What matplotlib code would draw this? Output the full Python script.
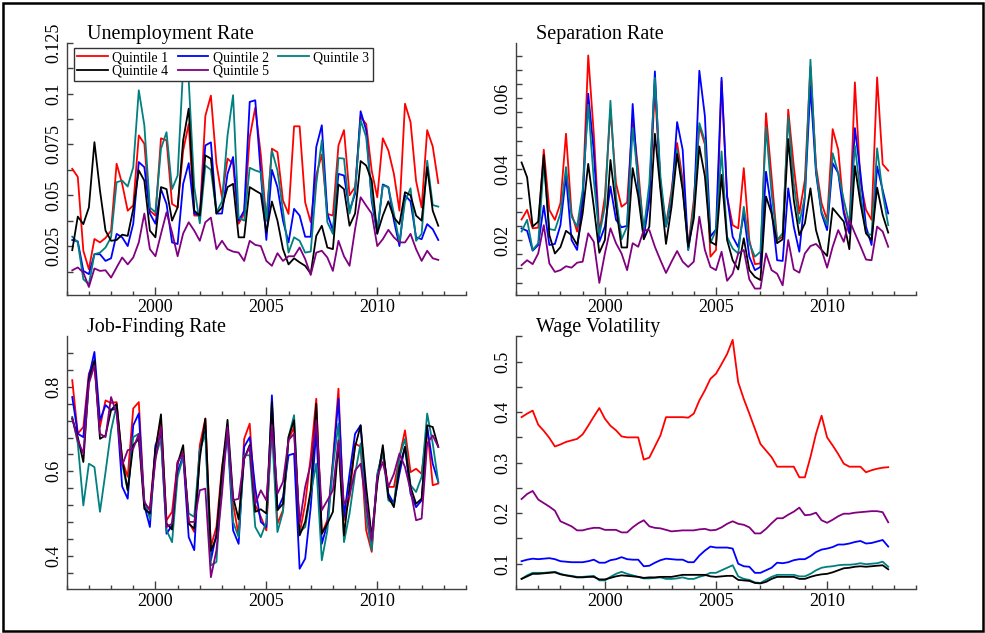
import numpy as np
import matplotlib
matplotlib.use("Agg")
import matplotlib.pyplot as plt
from matplotlib.patches import Rectangle
from matplotlib.ticker import FixedLocator, MultipleLocator, FuncFormatter

plt.rcParams['font.family'] = ['Liberation Serif', 'DejaVu Serif']

# quarterly observations, 1996Q2 .. 2012Q4
quarters = np.arange(1996.25, 2012.76, 0.25)

labels = ['Quintile 1', 'Quintile 2', 'Quintile 3', 'Quintile 4', 'Quintile 5']
colors = ['#ff0000', '#0000ff', '#008080', '#000000', '#800080']

# Unemployment rate
unemp_q1 = [0.063, 0.059, 0.0227, 0.0136, 0.0285, 0.0268, 0.029, 0.0326, 0.0655, 0.0556, 0.0424, 0.045,
            0.0794, 0.0753, 0.0424, 0.040, 0.078, 0.077, 0.0457, 0.044, 0.072, 0.085, 0.040, 0.040,
            0.089, 0.099, 0.0655, 0.049, 0.068, 0.0655, 0.036, 0.041, 0.0786, 0.093,
            0.070, 0.0375, 0.0729, 0.0712, 0.0474, 0.0408, 0.0839, 0.0839, 0.0465, 0.0367, 0.060, 0.070,
            0.0408, 0.040, 0.0745, 0.082, 0.050, 0.054, 0.0885, 0.085, 0.062, 0.049, 0.078, 0.072,
            0.0605, 0.0424, 0.095, 0.086, 0.057, 0.044, 0.082, 0.074, 0.056]
unemp_q2 = [0.028, 0.0273, 0.0128, 0.0112, 0.021, 0.021, 0.0177, 0.019, 0.031, 0.0293, 0.025, 0.036,
            0.0663, 0.0638, 0.041, 0.036, 0.053, 0.0457, 0.0268, 0.026, 0.0556, 0.0658, 0.041, 0.040,
            0.0745, 0.076, 0.041, 0.041, 0.0605, 0.0688, 0.0375, 0.0424, 0.0959, 0.0967,
            0.0605, 0.028, 0.0625, 0.054, 0.0375, 0.0268, 0.0433, 0.040, 0.0296, 0.0296, 0.0737, 0.0844,
            0.041, 0.0326, 0.0605, 0.0597, 0.0424, 0.0507, 0.0913, 0.082, 0.047, 0.031, 0.0553, 0.054,
            0.0375, 0.025, 0.050, 0.047, 0.0293, 0.0284, 0.0358, 0.0333, 0.028]
unemp_q3 = [0.0296, 0.0268, 0.0087, 0.0062, 0.021, 0.0218, 0.0243, 0.0293, 0.0564, 0.0572, 0.0543, 0.0638,
            0.1016, 0.0844, 0.044, 0.0416, 0.0729, 0.081, 0.053, 0.0597, 0.113, 0.1066, 0.054, 0.0362,
            0.0646, 0.0625, 0.0416, 0.047, 0.0794, 0.0992, 0.039, 0.0375, 0.0635, 0.0622,
            0.0613, 0.0375, 0.072, 0.0622, 0.0424, 0.0218, 0.0293, 0.0276, 0.0218, 0.0223, 0.0556, 0.077,
            0.0367, 0.031, 0.0683, 0.068, 0.041, 0.0523, 0.0868, 0.0786, 0.049, 0.0326, 0.0548, 0.054,
            0.041, 0.0268, 0.047, 0.0534, 0.0276, 0.031, 0.067, 0.0452, 0.0444]
unemp_q4 = [0.023, 0.0395, 0.0358, 0.044, 0.0761, 0.0523, 0.0326, 0.0276, 0.028, 0.0306, 0.030, 0.0432,
            0.0622, 0.0572, 0.0326, 0.0293, 0.054, 0.053, 0.0375, 0.044, 0.077, 0.0926, 0.0424, 0.040,
            0.0696, 0.068, 0.041, 0.044, 0.054, 0.0556, 0.0293, 0.0293, 0.054, 0.0523,
            0.0507, 0.0317, 0.0469, 0.0375, 0.0235, 0.016, 0.019, 0.017, 0.0153, 0.0115, 0.030, 0.035,
            0.0243, 0.0235, 0.0553, 0.053, 0.035, 0.041, 0.0668, 0.0646, 0.0572, 0.0312, 0.040, 0.047,
            0.039, 0.0358, 0.0515, 0.050, 0.040, 0.0375, 0.0638, 0.0424, 0.035]
unemp_q5 = [0.0131, 0.0145, 0.012, 0.0049, 0.014, 0.0128, 0.0131, 0.0095, 0.0145, 0.0194, 0.016, 0.0194,
            0.0268, 0.041, 0.0235, 0.020, 0.031, 0.0416, 0.0317, 0.020, 0.0312, 0.0367, 0.0326, 0.0276,
            0.0367, 0.039, 0.0235, 0.0276, 0.0235, 0.0223, 0.0218, 0.0177, 0.0276, 0.0256,
            0.025, 0.0177, 0.0153, 0.0215, 0.0177, 0.020, 0.020, 0.0243, 0.0186, 0.0108, 0.0218, 0.0227,
            0.0194, 0.0128, 0.0276, 0.020, 0.0153, 0.0334, 0.049, 0.0449, 0.041, 0.025, 0.0284, 0.033,
            0.0293, 0.0268, 0.0268, 0.031, 0.0235, 0.0177, 0.0227, 0.019, 0.0182]

# Separation rate
sep_q1 = [0.0258, 0.0285, 0.0233, 0.0235, 0.0455, 0.0285, 0.0257, 0.0304, 0.050, 0.0275, 0.0224, 0.0323,
          0.0721, 0.050, 0.022, 0.0323, 0.0568, 0.036, 0.0294, 0.0306, 0.054, 0.0398, 0.022, 0.0323,
          0.0625, 0.036, 0.0242, 0.0341, 0.0474, 0.037, 0.0181, 0.0313, 0.0521, 0.047,
          0.0153, 0.0172, 0.0648, 0.0323, 0.0242, 0.0233, 0.0403, 0.020, 0.0132, 0.0134, 0.0558, 0.0379,
          0.020, 0.0209, 0.0568, 0.0408, 0.0275, 0.037, 0.069, 0.0408, 0.0304, 0.0257, 0.0513, 0.0455,
          0.0285, 0.0228, 0.0645, 0.0365, 0.0285, 0.0257, 0.0659, 0.0414, 0.0396]
sep_q2 = [0.0233, 0.0226, 0.017, 0.0186, 0.0297, 0.0186, 0.0189, 0.0242, 0.0381, 0.020, 0.0172, 0.0313,
          0.0613, 0.045, 0.0195, 0.0238, 0.0351, 0.0257, 0.0236, 0.024, 0.0584, 0.0351, 0.0209, 0.0313,
          0.0676, 0.0351, 0.0238, 0.0313, 0.0533, 0.0455, 0.0172, 0.0275, 0.0678, 0.055,
          0.021, 0.023, 0.0658, 0.0323, 0.0209, 0.018, 0.0275, 0.0153, 0.0115, 0.0124, 0.0393, 0.0285,
          0.0143, 0.0141, 0.0346, 0.0238, 0.0167, 0.0323, 0.0634, 0.0389, 0.0275, 0.0228, 0.0417, 0.0389,
          0.0275, 0.0219, 0.0516, 0.0389, 0.0238, 0.0186, 0.0408, 0.0341, 0.0275]
sep_q3 = [0.0224, 0.0257, 0.0172, 0.0191, 0.0417, 0.0231, 0.0228, 0.0275, 0.0406, 0.0266, 0.0238, 0.0341,
          0.0582, 0.037, 0.0214, 0.0294, 0.0593, 0.0323, 0.0202, 0.0238, 0.0516, 0.037, 0.0228, 0.036,
          0.0658, 0.0379, 0.0238, 0.0327, 0.0455, 0.0351, 0.0172, 0.0294, 0.053, 0.048,
          0.0191, 0.0228, 0.045, 0.0209, 0.0176, 0.0162, 0.0294, 0.0191, 0.0153, 0.0167, 0.0519, 0.0332,
          0.020, 0.0219, 0.0547, 0.036, 0.0247, 0.0323, 0.0709, 0.0398, 0.028, 0.0242, 0.0445, 0.0389,
          0.0313, 0.0247, 0.0466, 0.0332, 0.0219, 0.0214, 0.0459, 0.0332, 0.0242]
sep_q4 = [0.0419, 0.0377, 0.0238, 0.0252, 0.044, 0.0214, 0.0162, 0.018, 0.0226, 0.0214, 0.0186, 0.0275,
          0.0415, 0.0294, 0.0164, 0.020, 0.0426, 0.0294, 0.0179, 0.0179, 0.0403, 0.0323, 0.0202, 0.0238,
          0.050, 0.0341, 0.0189, 0.0294, 0.0443, 0.0341, 0.0181, 0.026, 0.0464, 0.038,
          0.0195, 0.0186, 0.0384, 0.020, 0.0143, 0.0117, 0.0205, 0.0115, 0.0096, 0.0087, 0.0323, 0.0275,
          0.0191, 0.0202, 0.0485, 0.0313, 0.0214, 0.0247, 0.0346, 0.0228, 0.0172, 0.0155, 0.029, 0.0271,
          0.0252, 0.0174, 0.0409, 0.0304, 0.0219, 0.020, 0.0348, 0.0271, 0.0221]
sep_q5 = [0.0129, 0.0143, 0.0132, 0.0162, 0.0242, 0.0134, 0.011, 0.0115, 0.0126, 0.0122, 0.0136, 0.0139,
          0.0219, 0.0195, 0.0079, 0.0162, 0.0233, 0.0191, 0.0162, 0.0115, 0.0191, 0.0181, 0.0228, 0.0228,
          0.0181, 0.0143, 0.0107, 0.0139, 0.0169, 0.0139, 0.0124, 0.0139, 0.0266, 0.0172,
          0.0124, 0.0115, 0.0167, 0.0085, 0.0105, 0.0162, 0.0172, 0.0089, 0.0063, 0.0063, 0.0162, 0.0115,
          0.0105, 0.0072, 0.020, 0.0117, 0.0108, 0.0162, 0.0183, 0.0189, 0.0172, 0.0122, 0.0181, 0.0228,
          0.0195, 0.0257, 0.0219, 0.0183, 0.0145, 0.0143, 0.0238, 0.0224, 0.0181]

# Job-finding rate
find_q1 = [0.816, 0.689, 0.705, 0.832, 0.859, 0.705, 0.768, 0.762, 0.764, 0.626, 0.587, 0.749,
           0.764, 0.523, 0.511, 0.654, 0.721, 0.484, 0.504, 0.622, 0.646, 0.48, 0.456, 0.662,
           0.725, 0.422, 0.468, 0.61, 0.697, 0.523, 0.448, 0.677, 0.713, 0.52,
           0.492, 0.46, 0.729, 0.476, 0.508, 0.674, 0.705, 0.452, 0.523, 0.634, 0.772, 0.452,
           0.484, 0.626, 0.796, 0.484, 0.539, 0.666, 0.658, 0.46, 0.409, 0.587, 0.642, 0.563,
           0.563, 0.634, 0.697, 0.598, 0.606, 0.594, 0.705, 0.567, 0.571]
find_q2 = [0.776, 0.689, 0.681, 0.824, 0.883, 0.721, 0.757, 0.745, 0.749, 0.564, 0.535, 0.709,
           0.737, 0.519, 0.468, 0.662, 0.685, 0.452, 0.472, 0.598, 0.638, 0.444, 0.413, 0.65,
           0.697, 0.389, 0.452, 0.587, 0.689, 0.46, 0.428, 0.658, 0.681, 0.56,
           0.48, 0.468, 0.78, 0.508, 0.539, 0.638, 0.642, 0.369, 0.393, 0.515, 0.697, 0.428,
           0.476, 0.618, 0.772, 0.492, 0.594, 0.689, 0.709, 0.523, 0.428, 0.587, 0.654, 0.547,
           0.523, 0.594, 0.658, 0.547, 0.515, 0.531, 0.705, 0.618, 0.575]
find_q3 = [0.729, 0.666, 0.519, 0.618, 0.61, 0.504, 0.598, 0.697, 0.757, 0.618, 0.555, 0.681,
           0.689, 0.531, 0.488, 0.634, 0.677, 0.46, 0.432, 0.587, 0.634, 0.5, 0.492, 0.65,
           0.689, 0.377, 0.385, 0.594, 0.697, 0.48, 0.444, 0.638, 0.638, 0.468,
           0.444, 0.48, 0.697, 0.456, 0.504, 0.681, 0.733, 0.456, 0.468, 0.547, 0.618, 0.389,
           0.46, 0.61, 0.713, 0.432, 0.5, 0.594, 0.666, 0.492, 0.413, 0.594, 0.646, 0.531,
           0.523, 0.634, 0.677, 0.567, 0.551, 0.587, 0.737, 0.666, 0.575]
find_q4 = [0.725, 0.681, 0.622, 0.816, 0.863, 0.677, 0.685, 0.745, 0.760, 0.630, 0.555, 0.662,
           0.677, 0.511, 0.5, 0.65, 0.735, 0.476, 0.462, 0.618, 0.662, 0.476, 0.464, 0.63,
           0.725, 0.411, 0.444, 0.602, 0.722, 0.539, 0.486, 0.63, 0.662, 0.504,
           0.51, 0.50, 0.764, 0.508, 0.523, 0.681, 0.721, 0.448, 0.48, 0.555, 0.760, 0.452,
           0.476, 0.504, 0.666, 0.448, 0.563, 0.658, 0.709, 0.563, 0.444, 0.571, 0.662, 0.539,
           0.515, 0.61, 0.658, 0.563, 0.523, 0.535, 0.709, 0.705, 0.658]
find_q5 = [0.725, 0.674, 0.642, 0.808, 0.851, 0.689, 0.681, 0.776, 0.737, 0.614, 0.65, 0.654,
           0.689, 0.527, 0.507, 0.626, 0.705, 0.468, 0.476, 0.622, 0.642, 0.48, 0.48, 0.555,
           0.559, 0.349, 0.413, 0.547, 0.705, 0.531, 0.535, 0.63, 0.658, 0.523,
           0.555, 0.531, 0.709, 0.547, 0.575, 0.674, 0.689, 0.476, 0.563, 0.618, 0.721, 0.508,
           0.531, 0.555, 0.674, 0.523, 0.543, 0.602, 0.618, 0.523, 0.436, 0.587, 0.622, 0.563,
           0.594, 0.642, 0.61, 0.555, 0.484, 0.488, 0.666, 0.685, 0.658]

# Wage volatility
wage_q1 = [0.39, 0.397, 0.403, 0.375, 0.363, 0.349, 0.332, 0.336, 0.341, 0.344, 0.347, 0.356,
           0.373, 0.391, 0.408, 0.387, 0.373, 0.364, 0.352, 0.35, 0.35, 0.35, 0.306, 0.31,
           0.332, 0.354, 0.39, 0.39, 0.39, 0.39, 0.389, 0.397, 0.423, 0.443, 0.466, 0.476,
           0.495, 0.515, 0.543, 0.459, 0.426, 0.397, 0.367, 0.337, 0.324, 0.311, 0.292, 0.292,
           0.292, 0.292, 0.271, 0.271, 0.311, 0.357, 0.393, 0.35, 0.334, 0.317, 0.298, 0.292,
           0.292, 0.292, 0.281, 0.285, 0.288, 0.29, 0.291]
wage_q2 = [0.105, 0.108, 0.11, 0.109, 0.11, 0.111, 0.109, 0.105, 0.104, 0.103, 0.103, 0.103,
           0.105, 0.108, 0.102, 0.102, 0.107, 0.109, 0.113, 0.109, 0.108, 0.108, 0.095, 0.096,
           0.102, 0.107, 0.11, 0.109, 0.108, 0.108, 0.103, 0.103, 0.116, 0.126, 0.134, 0.132,
           0.132, 0.132, 0.13, 0.1, 0.095, 0.094, 0.082, 0.082, 0.087, 0.092, 0.102, 0.101,
           0.103, 0.107, 0.109, 0.109, 0.115, 0.123, 0.128, 0.13, 0.133, 0.138, 0.138, 0.14,
           0.143, 0.145, 0.14, 0.141, 0.144, 0.147, 0.134]
wage_q3 = [0.07, 0.077, 0.082, 0.082, 0.082, 0.083, 0.084, 0.08, 0.077, 0.076, 0.074, 0.074,
           0.075, 0.076, 0.067, 0.067, 0.074, 0.08, 0.084, 0.08, 0.077, 0.074, 0.071, 0.071,
           0.072, 0.073, 0.07, 0.07, 0.071, 0.073, 0.07, 0.07, 0.074, 0.077, 0.082, 0.082,
           0.087, 0.092, 0.097, 0.075, 0.07, 0.068, 0.063, 0.062, 0.068, 0.074, 0.078, 0.078,
           0.078, 0.078, 0.075, 0.075, 0.08, 0.087, 0.092, 0.094, 0.095, 0.097, 0.098, 0.098,
           0.099, 0.101, 0.099, 0.1, 0.101, 0.104, 0.094]
wage_q4 = [0.07, 0.075, 0.08, 0.08, 0.081, 0.082, 0.083, 0.079, 0.077, 0.075, 0.073, 0.073,
           0.074, 0.074, 0.069, 0.069, 0.072, 0.075, 0.077, 0.076, 0.075, 0.074, 0.072, 0.073,
           0.073, 0.074, 0.074, 0.074, 0.076, 0.078, 0.078, 0.078, 0.078, 0.078, 0.075, 0.074,
           0.075, 0.076, 0.076, 0.068, 0.067, 0.066, 0.062, 0.061, 0.064, 0.07, 0.074, 0.074,
           0.074, 0.074, 0.07, 0.07, 0.074, 0.077, 0.079, 0.08, 0.083, 0.087, 0.091, 0.092,
           0.094, 0.095, 0.094, 0.095, 0.096, 0.097, 0.089]
wage_q5 = [0.228, 0.238, 0.244, 0.227, 0.22, 0.213, 0.205, 0.184, 0.179, 0.174, 0.166, 0.166,
           0.169, 0.171, 0.171, 0.167, 0.167, 0.167, 0.162, 0.162, 0.172, 0.18, 0.186, 0.174,
           0.171, 0.17, 0.167, 0.164, 0.165, 0.166, 0.166, 0.166, 0.168, 0.169, 0.166, 0.167,
           0.172, 0.179, 0.184, 0.179, 0.177, 0.172, 0.16, 0.16, 0.169, 0.18, 0.19, 0.19,
           0.197, 0.203, 0.211, 0.196, 0.197, 0.201, 0.186, 0.181, 0.187, 0.194, 0.199, 0.199,
           0.201, 0.202, 0.203, 0.204, 0.204, 0.202, 0.182]

panels = [
    ('Unemployment Rate', [unemp_q1, unemp_q2, unemp_q3, unemp_q4, unemp_q5],
     (0.0008, 0.125), np.arange(0.025, 0.126, 0.025), np.arange(0.0125, 0.125, 0.0125)),
    ('Separation Rate', [sep_q1, sep_q2, sep_q3, sep_q4, sep_q5],
     (0.0044, 0.0757), [0.02, 0.04, 0.06], np.arange(0.008, 0.0725, 0.004)),
    ('Job-Finding Rate', [find_q1, find_q2, find_q3, find_q4, find_q5],
     (0.321, 0.92), [0.4, 0.6, 0.8], np.arange(0.36, 0.885, 0.04)),
    ('Wage Volatility', [wage_q1, wage_q2, wage_q3, wage_q4, wage_q5],
     (0.05, 0.55), [0.1, 0.2, 0.3, 0.4, 0.5], np.arange(0.15, 0.56, 0.1)),
]

W, H = 985, 633
fig = plt.figure(figsize=(W / 100, H / 100), dpi=100)

# axes boxes in pixels: left, top, right, bottom
boxes = [(66.7, 42.7, 466, 295.3), (516, 42.7, 916, 295.3),
         (66.7, 336.3, 466, 589), (516, 336.3, 916, 589)]

fmt = FuncFormatter(lambda v, p: ('%.4f' % v).rstrip('0').rstrip('.'))

axes = []
for (title, series, ylim, major, minor), (l, t, r, b) in zip(panels, boxes):
    ax = fig.add_axes([l / W, 1 - b / H, (r - l) / W, (b - t) / H])
    for vals, c, lab in zip(series, colors, labels):
        ax.plot(quarters, vals, color=c, lw=1.3, label=lab)
    ax.set_xlim(1996, 2014)
    ax.set_ylim(*ylim)
    ax.xaxis.set_major_locator(FixedLocator([2000, 2005, 2010]))
    ax.xaxis.set_minor_locator(MultipleLocator(1))
    ax.yaxis.set_major_locator(FixedLocator(major))
    ax.yaxis.set_minor_locator(FixedLocator(minor))
    ax.yaxis.set_major_formatter(fmt)
    for s in ['top', 'right']:
        ax.spines[s].set_visible(False)
    for s in ['left', 'bottom']:
        ax.spines[s].set_color('0.25')
        ax.spines[s].set_linewidth(1.0)
    ax.tick_params(axis='both', which='both', direction='in', colors='0.25',
                   labelcolor='black', labelsize=13)
    ax.tick_params(axis='x', which='major', length=6, width=1, pad=3)
    ax.tick_params(axis='x', which='minor', length=3, width=1)
    ax.tick_params(axis='y', which='major', length=4, width=1, pad=3)
    ax.tick_params(axis='y', which='minor', length=4, width=1)
    for tl in ax.get_yticklabels():
        tl.set_rotation(90)
        tl.set_va('center')
    ax.text(0.05, 1.0 + 4 / (b - t), title, transform=ax.transAxes,
            fontsize=14.5, ha='left', va='baseline')
    axes.append(ax)

# legend in the first panel, filled row by row
h, lb = axes[0].get_legend_handles_labels()
order = [0, 3, 1, 4, 2]
leg = axes[0].legend([h[i] for i in order], [lb[i] for i in order], ncol=3,
                     loc='upper left', bbox_to_anchor=(0.018, 0.98), fontsize=10,
                     frameon=True, fancybox=False, framealpha=1, edgecolor='0.2',
                     handlelength=2.2, handletextpad=0.3, columnspacing=0.7,
                     labelspacing=0.02, borderpad=0.25, borderaxespad=0)
leg.get_frame().set_linewidth(1.0)

# outer frame around the whole figure
fig.patches.append(Rectangle((2.5 / W, 2.5 / H), 1 - 5 / W, 1 - 5 / H, transform=fig.transFigure,
                             fill=False, edgecolor='black', lw=1.8))

fig.savefig('out.png', dpi=100)
